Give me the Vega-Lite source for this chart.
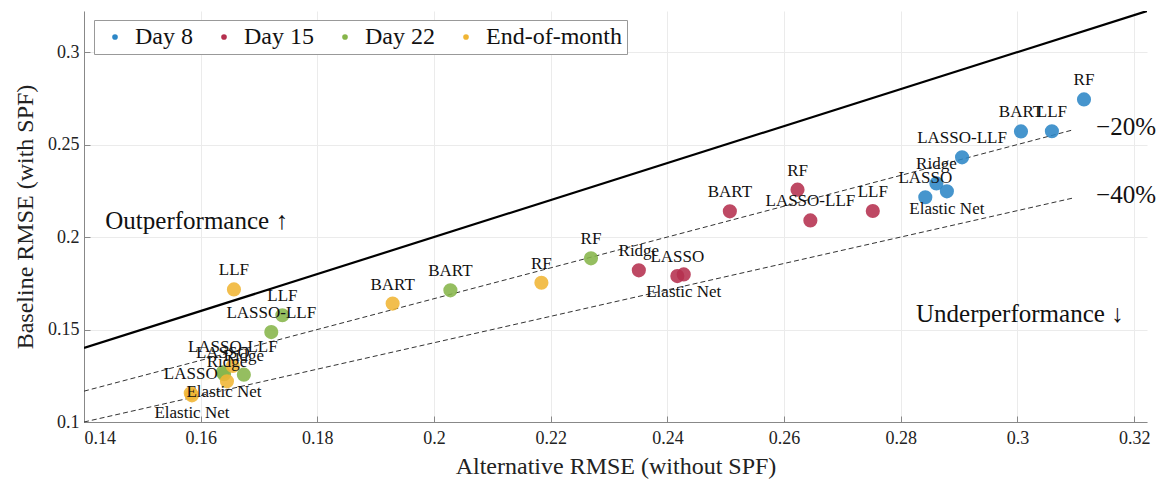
{
  "$schema": "https://vega.github.io/schema/vega-lite/v6.json",
  "width": 1063,
  "height": 411,
  "autosize": {"type": "none"},
  "padding": {"left": 84, "top": 11, "right": 11, "bottom": 58},
  "config": {
    "font": "Liberation Serif",
    "view": {"stroke": null},
    "axis": {
      "domainColor": "#888888",
      "tickColor": "#888888",
      "gridColor": "#ebebeb",
      "labelColor": "#222222",
      "titleColor": "#222222",
      "labelFontSize": 18,
      "titleFontSize": 24,
      "titleFontWeight": "normal",
      "tickSize": -6,
      "labelFont": "Liberation Serif",
      "titleFont": "Liberation Serif"
    }
  },
  "datasets": {
    "points": [
      {"series": "Day 8", "model": "RF", "alt": 0.3114, "base": 0.2744},
      {"series": "Day 8", "model": "BART", "alt": 0.3006, "base": 0.2571},
      {"series": "Day 8", "model": "LLF", "alt": 0.3059, "base": 0.2572},
      {"series": "Day 8", "model": "LASSO-LLF", "alt": 0.2905, "base": 0.2431},
      {"series": "Day 8", "model": "Ridge", "alt": 0.2861, "base": 0.2290},
      {"series": "Day 8", "model": "LASSO", "alt": 0.2842, "base": 0.2215},
      {"series": "Day 8", "model": "Elastic Net", "alt": 0.2879, "base": 0.2247},
      {"series": "Day 15", "model": "RF", "alt": 0.2623, "base": 0.2256},
      {"series": "Day 15", "model": "BART", "alt": 0.2507, "base": 0.2139},
      {"series": "Day 15", "model": "LASSO-LLF", "alt": 0.2645, "base": 0.2090},
      {"series": "Day 15", "model": "LLF", "alt": 0.2752, "base": 0.2141},
      {"series": "Day 15", "model": "Ridge", "alt": 0.2351, "base": 0.1820},
      {"series": "Day 15", "model": "LASSO", "alt": 0.2417, "base": 0.1789},
      {"series": "Day 15", "model": "Elastic Net", "alt": 0.2428, "base": 0.1798},
      {"series": "Day 22", "model": "RF", "alt": 0.2269, "base": 0.1885},
      {"series": "Day 22", "model": "BART", "alt": 0.2028, "base": 0.1712},
      {"series": "Day 22", "model": "LLF", "alt": 0.1740, "base": 0.1577},
      {"series": "Day 22", "model": "LASSO-LLF", "alt": 0.1721, "base": 0.1486},
      {"series": "Day 22", "model": "LASSO", "alt": 0.1638, "base": 0.1269},
      {"series": "Day 22", "model": "Elastic Net", "alt": 0.1640, "base": 0.1258},
      {"series": "Day 22", "model": "Ridge", "alt": 0.1674, "base": 0.1256},
      {"series": "End-of-month", "model": "RF", "alt": 0.2184, "base": 0.1753},
      {"series": "End-of-month", "model": "BART", "alt": 0.1929, "base": 0.1640},
      {"series": "End-of-month", "model": "LLF", "alt": 0.1657, "base": 0.1717},
      {"series": "End-of-month", "model": "LASSO-LLF", "alt": 0.1655, "base": 0.1303},
      {"series": "End-of-month", "model": "Ridge", "alt": 0.1645, "base": 0.1220},
      {"series": "End-of-month", "model": "LASSO", "alt": 0.1583, "base": 0.1155},
      {"series": "End-of-month", "model": "Elastic Net", "alt": 0.1585, "base": 0.1144}
    ],
    "lines": [
      {"line": "parity", "alt": 0.14, "base": 0.14},
      {"line": "parity", "alt": 0.3222, "base": 0.3222},
      {"line": "-20%", "alt": 0.14, "base": 0.11667},
      {"line": "-20%", "alt": 0.3095, "base": 0.25792},
      {"line": "-40%", "alt": 0.14, "base": 0.1},
      {"line": "-40%", "alt": 0.3095, "base": 0.22107}
    ],
    "notes": [
      {"note": "Outperformance ↑", "alt": 0.1593, "base": 0.2085},
      {"note": "Underperformance ↓", "alt": 0.3004, "base": 0.1582},
      {"note": "−20%", "alt": 0.3186, "base": 0.2593},
      {"note": "−40%", "alt": 0.3186, "base": 0.2225}
    ]
  },
  "layer": [
    {
      "data": {"name": "lines"},
      "transform": [{"filter": "datum.line === 'parity'"}],
      "mark": {"type": "line", "color": "#000000", "strokeWidth": 2.2, "clip": true},
      "encoding": {
        "x": {"field": "alt", "type": "quantitative", "scale": {"domain": [0.14, 0.3222], "nice": false, "zero": false},
          "axis": {"title": "Alternative RMSE (without SPF)", "values": [0.14, 0.16, 0.18, 0.2, 0.22, 0.24, 0.26, 0.28, 0.3, 0.32], "format": "~g", "labelPadding": 13, "titlePadding": 7}},
        "y": {"field": "base", "type": "quantitative", "scale": {"domain": [0.1, 0.3222], "nice": false, "zero": false},
          "axis": {"title": "Baseline RMSE (with SPF)", "values": [0.1, 0.15, 0.2, 0.25, 0.3], "format": "~g", "labelPadding": 11, "titlePadding": 10}}
      }
    },
    {
      "data": {"name": "lines"},
      "transform": [{"filter": "datum.line !== 'parity'"}],
      "mark": {"type": "line", "color": "#333333", "strokeWidth": 1, "strokeDash": [5, 3]},
      "encoding": {
        "x": {"field": "alt", "type": "quantitative"},
        "y": {"field": "base", "type": "quantitative"},
        "detail": {"field": "line"}
      }
    },
    {
      "data": {"name": "points"},
      "mark": {"type": "circle", "size": 200, "opacity": 0.88},
      "encoding": {
        "x": {"field": "alt", "type": "quantitative"},
        "y": {"field": "base", "type": "quantitative"},
        "color": {
          "field": "series", "type": "nominal",
          "scale": {"domain": ["Day 8", "Day 15", "Day 22", "End-of-month"], "range": ["#2c86c6", "#b5304e", "#86b54a", "#f0b534"]},
          "legend": {
            "title": null, "orient": "none", "legendX": 10, "legendY": 9, "direction": "horizontal",
            "labelFontSize": 24, "labelFont": "Liberation Serif", "labelColor": "#111111",
            "symbolType": "circle", "symbolSize": 32, "symbolOpacity": 1, "labelOffset": 8,
            "symbolOffset": 4, "columnPadding": 15, "padding": 5, "strokeColor": "#999999", "fillColor": "#ffffff", "symbolStrokeWidth": 0
          }
        }
      }
    },
    {
      "data": {"name": "points"},
      "transform": [{"filter": "datum.model !== 'Elastic Net'"}],
      "mark": {"type": "text", "fontSize": 17, "dy": -19, "color": "#111111", "baseline": "middle"},
      "encoding": {
        "x": {"field": "alt", "type": "quantitative"},
        "y": {"field": "base", "type": "quantitative"},
        "text": {"field": "model"}
      }
    },
    {
      "data": {"name": "points"},
      "transform": [{"filter": "datum.model === 'Elastic Net'"}],
      "mark": {"type": "text", "fontSize": 17, "dy": 18, "color": "#111111", "baseline": "middle"},
      "encoding": {
        "x": {"field": "alt", "type": "quantitative"},
        "y": {"field": "base", "type": "quantitative"},
        "text": {"field": "model"}
      }
    },
    {
      "data": {"name": "notes"},
      "mark": {"type": "text", "fontSize": 25, "color": "#111111", "baseline": "middle"},
      "encoding": {
        "x": {"field": "alt", "type": "quantitative"},
        "y": {"field": "base", "type": "quantitative"},
        "text": {"field": "note"}
      }
    }
  ]
}
